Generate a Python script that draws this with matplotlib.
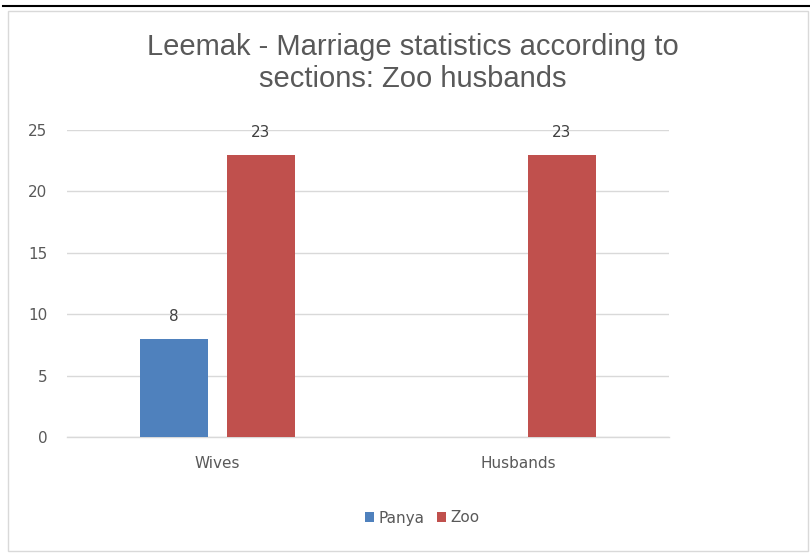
import matplotlib.pyplot as plt
from matplotlib.lines import Line2D
from matplotlib.patches import Rectangle
import numpy as np

categories = ['Wives', 'Husbands']
panya = [8, 0]
zoo = [23, 23]
series_names = ['Panya', 'Zoo']
colors = ['#4F81BD', '#C0504D']

W, H = 810, 554
fig = plt.figure(figsize=(W / 100, H / 100), dpi=100)
fig.patch.set_facecolor('white')

# axes box in pixel terms: x 67..669, y 130..437 (0..25)
ax = fig.add_axes([67 / W, 1 - 437 / H, (669 - 67) / W, (437 - 130) / H])
x = np.arange(len(categories))
width = 0.223
offset = 0.1445

bars_p = ax.bar(x - offset, panya, width, color=colors[0], label=series_names[0], zorder=3)
bars_z = ax.bar(x + offset, zoo, width, color=colors[1], label=series_names[1], zorder=3)

for bars, vals in ((bars_p, panya), (bars_z, zoo)):
    for b, v in zip(bars, vals):
        if v == 0:
            continue
        ax.text(b.get_x() + b.get_width() / 2, v + 1.2, str(v), ha='center', va='bottom',
                fontsize=11, color='#404040', family='DejaVu Sans')

ax.set_xlim(-0.5, 1.5)
ax.set_ylim(0, 25)
ax.set_yticks(range(0, 26, 5))
ax.set_xticks(x)
ax.set_xticklabels(categories)
ax.grid(axis='y', color='#D9D9D9', linewidth=1, zorder=0)
ax.axhline(0, color='#D9D9D9', linewidth=1, zorder=1, clip_on=False)
for s in ax.spines.values():
    s.set_visible(False)
ax.tick_params(length=0, labelsize=11, labelcolor='#595959')
ax.tick_params(axis='y', pad=14)
ax.tick_params(axis='x', pad=14)

fig.text(413 / W, 1 - 63 / H, 'Leemak - Marriage statistics according to\nsections: Zoo husbands',
         ha='center', va='center', fontsize=21, color='#595959', family='Liberation Sans',
         linespacing=1.15)

fig.legend(loc='center', bbox_to_anchor=(422 / W, 1 - 518 / H), ncol=2, frameon=False,
           fontsize=11, handlelength=0.6, handleheight=0.6, handletextpad=0.3,
           columnspacing=0.8, labelcolor='#595959')

# chart frame
fig.add_artist(Rectangle((8 / W, 3 / H), (W - 10) / W, (H - 14) / H, transform=fig.transFigure,
                         fill=False, edgecolor='#D9D9D9', linewidth=1))
fig.add_artist(Line2D([3 / W, 1], [1 - 6 / H, 1 - 6 / H], transform=fig.transFigure,
                      color='black', linewidth=1.5))

fig.savefig('out.png', dpi=100)
